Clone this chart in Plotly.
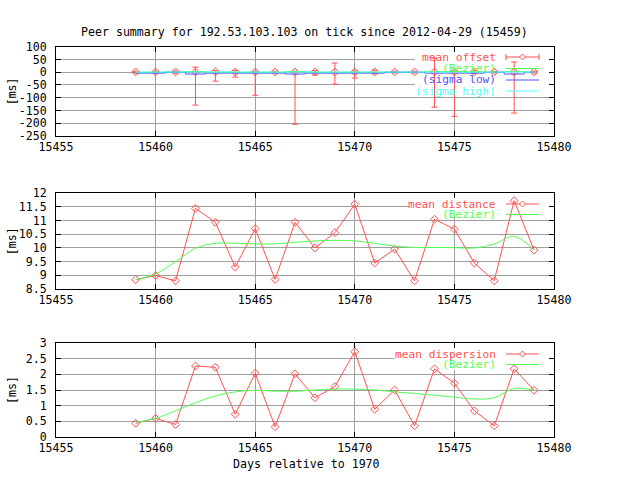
import plotly.graph_objects as go

# ---------------- data ----------------
days = list(range(15459, 15480))

offset_mean = [1, 1, 1, 1, 2, 1, 1, 1, 1, 1, 1, 1, 1, 1, 1, 1, 1, 1, 1, 1, 1]
offset_high = [4, 4, 5, 20, 6, 7, 4, 4, 4, 6, 36, 5, 8, 4, 4, 55, 5, 6, 4, 40, 4]
offset_low = [-3, -3, -4, -129, -35, -19, -90, -3, -204, -11, -47, -23, -6, -3, -3,
              -137, -173, -5, -3, -160, -3]
offset_bezier = [0, 0, 0, 3, 0, 0, 0, 0, 3, 0, 0, 0, 0, 0, 0, 3, 3, 0, 0, 3, 0]
offset_sigma_low = [-3.5, -3.5, 0, -7, -3.5, -3.5, -3.5, -3.5, -7, -3.5, -3.5, -3.5,
                    -3.5, 0, 0, -3.5, -3.5, -3.5, 0, -7, 0]
offset_sigma_high = [0.5] * 21

distance = [8.84, 8.99, 8.80, 11.45, 10.94, 9.30, 10.71, 8.85, 10.94, 10.00, 10.56,
            11.60, 9.45, 9.96, 8.80, 11.05, 10.69, 9.45, 8.80, 11.73, 9.92]
distance_bezier = [8.84, 9.05, 9.50, 9.99, 10.17, 10.17, 10.15, 10.15, 10.21, 10.26,
                   10.28, 10.26, 10.17, 10.07, 10.02, 10.02, 10.01, 10.00, 10.15,
                   10.42, 9.93]

dispersion = [0.43, 0.59, 0.39, 2.27, 2.23, 0.72, 2.04, 0.32, 2.02, 1.25, 1.61,
              2.73, 0.88, 1.50, 0.35, 2.18, 1.72, 0.83, 0.35, 2.18, 1.49]
dispersion_bezier = [0.46, 0.59, 0.83, 1.09, 1.31, 1.44, 1.49, 1.46, 1.46, 1.50,
                     1.53, 1.53, 1.50, 1.44, 1.39, 1.33, 1.27, 1.21, 1.25, 1.55, 1.49]

x_ticks = [15455, 15460, 15465, 15470, 15475, 15480]
y1_ticks = [100, 50, 0, -50, -100, -150, -200, -250]
y1_labels = ["100", "50", "0", "-50", "-100", "-150", "-200", "-250"]
y2_ticks = [12, 11.5, 11, 10.5, 10, 9.5, 9, 8.5]
y2_labels = ["12", "11.5", "11", "10.5", "10", "9.5", "9", "8.5"]
y3_ticks = [3, 2.5, 2, 1.5, 1, 0.5, 0]
y3_labels = ["3", "2.5", "2", "1.5", "1", "0.5", "0"]

title = "Peer summary for 192.53.103.103 on tick since 2012-04-29 (15459)"
x_title = "Days relative to 1970"

# ---------------- style ----------------
W, H = 640, 480
RED = "#ff5050"
GREEN = "#50ff50"
BLUE = "#5050ff"
CYAN = "#50ffff"
GRID = "#a0a0a0"
FONT = dict(family="DejaVu Sans Mono, monospace", size=11.6, color="black")


def px(x):
    return x / W


def py(y):
    return 1 - y / H


X0, X1 = 56, 554
XR = [15455, 15480]
panels = [(46.7, 136.0), (193.3, 289.0), (343.3, 436.7)]
yranges = [[-250, 100], [8.5, 12], [0, 3]]

fig = go.Figure()

# panel 1
fig.add_trace(go.Scatter(
    x=days, y=offset_mean, mode="markers",
    marker=dict(symbol="diamond-open", size=6, color=RED, line=dict(width=1, color=RED)),
    error_y=dict(type="data", symmetric=False,
                 array=[h - m for h, m in zip(offset_high, offset_mean)],
                 arrayminus=[m - l for m, l in zip(offset_mean, offset_low)],
                 color=RED, thickness=1, width=3),
    xaxis="x", yaxis="y"))
fig.add_trace(go.Scatter(x=days, y=offset_bezier, mode="lines",
                         line=dict(color=GREEN, width=1, shape="hvh"), xaxis="x", yaxis="y"))
fig.add_trace(go.Scatter(x=days, y=offset_sigma_low, mode="lines",
                         line=dict(color=BLUE, width=1, shape="hvh"), xaxis="x", yaxis="y"))
fig.add_trace(go.Scatter(x=days, y=offset_sigma_high, mode="lines",
                         line=dict(color=CYAN, width=1, shape="hvh"), xaxis="x", yaxis="y"))

# panel 2
fig.add_trace(go.Scatter(x=days, y=distance, mode="lines+markers",
                         line=dict(color=RED, width=1),
                         marker=dict(symbol="diamond-open", size=6, color=RED,
                                     line=dict(width=1, color=RED)),
                         xaxis="x2", yaxis="y2"))
fig.add_trace(go.Scatter(x=days, y=distance_bezier, mode="lines",
                         line=dict(color=GREEN, width=1, shape="spline"),
                         xaxis="x2", yaxis="y2"))

# panel 3
fig.add_trace(go.Scatter(x=days, y=dispersion, mode="lines+markers",
                         line=dict(color=RED, width=1),
                         marker=dict(symbol="diamond-open", size=6, color=RED,
                                     line=dict(width=1, color=RED)),
                         xaxis="x3", yaxis="y3"))
fig.add_trace(go.Scatter(x=days, y=dispersion_bezier, mode="lines",
                         line=dict(color=GREEN, width=1, shape="spline"),
                         xaxis="x3", yaxis="y3"))

layout = dict(
    width=W, height=H, margin=dict(l=0, r=0, t=0, b=0, pad=0),
    paper_bgcolor="white", plot_bgcolor="white",
    showlegend=False, font=FONT,
)

yticks = [(y1_ticks, y1_labels), (y2_ticks, y2_labels), (y3_ticks, y3_labels)]

for i, ((top, bot), (tv, tt), rng) in enumerate(zip(panels, yticks, yranges), start=1):
    sx = "" if i == 1 else str(i)
    layout["xaxis" + sx] = dict(
        domain=[px(X0), px(X1)], anchor="y" + sx, range=XR, automargin=False,
        tickvals=x_ticks, ticktext=[str(t) for t in x_ticks],
        showgrid=True, gridcolor=GRID, gridwidth=1, zeroline=False,
        showline=True, linecolor="black", linewidth=1, mirror="ticks",
        ticks="inside", ticklen=5, tickcolor="black", tickwidth=1,
        tickfont=FONT,
    )
    layout["yaxis" + sx] = dict(
        domain=[py(bot), py(top)], anchor="x" + sx, range=rng, automargin=False,
        tickvals=tv, ticktext=tt,
        showgrid=True, gridcolor=GRID, gridwidth=1, zeroline=False,
        showline=True, linecolor="black", linewidth=1, mirror="ticks",
        ticks="inside", ticklen=5, tickcolor="black", tickwidth=1,
        tickfont=FONT, ticklabelstandoff=6,
    )

annotations = [
    dict(text=title, x=px(304), y=py(31.5), xref="paper", yref="paper",
         showarrow=False, font=FONT, xanchor="center", yanchor="middle"),
    dict(text=x_title, x=px(306), y=py(464), xref="paper", yref="paper",
         showarrow=False, font=FONT, xanchor="center", yanchor="middle"),
]
for (top, bot) in panels:
    annotations.append(dict(text="[ms]", x=px(12), y=py((top + bot) / 2),
                            xref="paper", yref="paper", textangle=-90,
                            showarrow=False, font=FONT,
                            xanchor="center", yanchor="middle"))

shapes = []


def pix_to_data_x(x):
    return XR[0] + (x - X0) / (X1 - X0) * (XR[1] - XR[0])


def pix_to_data_y(y, idx):
    top, bot = panels[idx]
    r0, r1 = yranges[idx]
    return r0 + (bot - y) / (bot - top) * (r1 - r0)


# key backgrounds masking the grid
key_boxes = [(0, 415, 51, 96), (1, 409, 197, 217), (2, 394, 347, 370)]
for idx, kx, ky0, ky1 in key_boxes:
    sx = "" if idx == 0 else str(idx + 1)
    shapes.append(dict(type="rect", layer="between",
                       xref="x" + sx, yref="y" + sx,
                       x0=pix_to_data_x(kx), x1=pix_to_data_x(X1 - 1),
                       y0=pix_to_data_y(ky1, idx), y1=pix_to_data_y(ky0, idx),
                       fillcolor="white", line=dict(width=0)))

TX = 498
S0, S1 = 506, 539
SM = (S0 + S1) / 2
KFONT = 11.2


def key_text(text, y, color):
    annotations.append(dict(text=text, x=px(TX), y=py(y), xref="paper", yref="paper",
                            showarrow=False, xanchor="right", yanchor="middle",
                            font=dict(family=FONT["family"], size=KFONT, color=color)))


def key_line(y, color):
    shapes.append(dict(type="line", xref="paper", yref="paper",
                       x0=px(S0), x1=px(S1), y0=py(y), y1=py(y),
                       line=dict(color=color, width=1)))


def key_diamond(y, color):
    d = 3
    path = "M {} {} L {} {} L {} {} L {} {} Z".format(
        px(SM - d), py(y), px(SM), py(y - d), px(SM + d), py(y), px(SM), py(y + d))
    shapes.append(dict(type="path", xref="paper", yref="paper", path=path,
                       line=dict(color=color, width=1), fillcolor="white"))


# panel 1 key
key_text("mean offset", 57, RED)
key_line(57, RED)
for xx in (S0, S1):
    shapes.append(dict(type="line", xref="paper", yref="paper",
                       x0=px(xx), x1=px(xx), y0=py(54), y1=py(60),
                       line=dict(color=RED, width=1)))
key_diamond(57, RED)
key_text("(Bezier)", 68.5, GREEN)
key_line(68.5, GREEN)
key_text("(sigma low)", 80, BLUE)
key_line(80, BLUE)
key_text("(sigma high)", 91, CYAN)
key_line(91, CYAN)

# panel 2 key
key_text("mean distance", 204, RED)
key_line(204, RED)
key_diamond(204, RED)
key_text("(Bezier)", 214.5, GREEN)
key_line(214.5, GREEN)

# panel 3 key
key_text("mean dispersion", 354, RED)
key_line(354, RED)
key_diamond(354, RED)
key_text("(Bezier)", 364.5, GREEN)
key_line(364.5, GREEN)

layout["annotations"] = annotations
layout["shapes"] = shapes
fig.update_layout(**layout)

fig.write_html("out.html", config={"displayModeBar": False},
               post_script="document.body.style.margin='0';")
